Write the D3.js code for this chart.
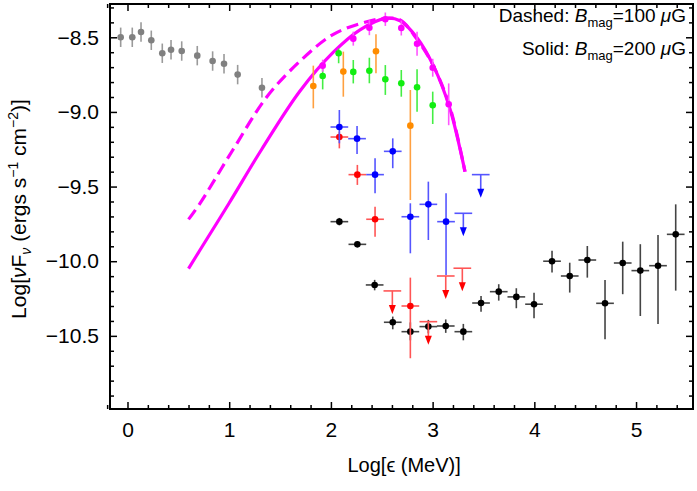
<!DOCTYPE html>
<html>
<head>
<meta charset="utf-8">
<script src="https://cdn.jsdelivr.net/npm/d3@7"></script>
<style>
  body { margin: 0; background: #fff; }
  svg { font-family: "Liberation Sans", Arial, sans-serif; }
</style>
</head>
<body>
<div id="chart"></div>
<script>
// ---- data (log10 energy in MeV, log10 nuFnu) ----
var grayX = [-0.067, 0.047, 0.133, 0.234, 0.342, 0.428, 0.533, 0.686, 0.837, 0.949, 1.083, 1.322];
var grayY = [-8.50, -8.50, -8.465, -8.52, -8.607, -8.583, -8.592, -8.623, -8.659, -8.677, -8.75, -8.838];
var grayErr = [0.065, 0.065, 0.065, 0.065, 0.065, 0.065, 0.065, 0.065, 0.065, 0.065, 0.065, 0.065];

var magX = [1.919, 2.22, 2.378, 2.535, 2.692, 2.847, 3.001, 3.158];
var magY = [-8.690, -8.509, -8.436, -8.379, -8.438, -8.543, -8.704, -8.949];
var magErr = [0.04, 0.047, 0.05, 0.045, 0.05, 0.08, 0.06, 0.14];

var orangeX = [1.827, 2.122, 2.443, 2.781];
var orangeY = [-8.826, -8.730, -8.594, -9.092];
var orangeHi = [-8.69, -8.596, -8.48, -8.853];
var orangeLo = [-8.976, -8.898, -8.741, -9.59];

var greenX = [1.919, 2.076, 2.22, 2.378, 2.535, 2.692, 2.847, 3.001];
var greenY = [-8.759, -8.607, -8.732, -8.724, -8.781, -8.808, -8.835, -8.955];
var greenHi = [-8.686, -8.574, -8.652, -8.637, -8.686, -8.719, -8.714, -8.864];
var greenLo = [-8.849, -8.674, -8.809, -8.808, -8.886, -8.898, -8.998, -9.081];

var blueX = [2.083, 2.257, 2.434, 2.608, 2.781, 2.958, 3.132];
var blueY = [-9.101, -9.179, -9.420, -9.264, -9.702, -9.619, -9.735];
var blueHi = [-8.987, -9.094, -9.311, -9.177, -9.612, -9.467, -9.545];
var blueLo = [-9.21, -9.282, -9.545, -9.377, -9.947, -9.858, -10.092];
var blueLimX = [3.302, 3.473];
var blueLimY = [-9.679, -9.420];

var redX = [2.083, 2.260, 2.434, 2.781];
var redY = [-9.168, -9.420, -9.719, -10.30];
var redHi = [-9.132, -9.355, -9.635, -10.11];
var redLo = [-9.244, -9.489, -9.836, -10.65];
var redLimX = [2.604, 2.958, 3.129, 3.292];
var redLimY = [-10.199, -10.405, -10.099, -10.047];

var blackX = [2.083, 2.260, 2.430, 2.608, 2.781, 2.958, 3.129, 3.302, 3.476, 3.650, 3.823, 3.997,
              4.174, 4.348, 4.521, 4.695, 4.869, 5.042, 5.216, 5.390];
var blackY = [-9.735, -9.887, -10.159, -10.409, -10.472, -10.438, -10.434, -10.472, -10.280, -10.204, -10.239, -10.288,
              -10.000, -10.099, -9.992, -10.282, -10.012, -10.063, -10.030, -9.820];
var blackHi = [-9.71, -9.87, -10.125, -10.371, -10.41, -10.393, -10.39, -10.42, -10.233, -10.154, -10.181, -10.211,
               -9.930, -10.01, -9.898, -10.126, -9.869, -9.886, -9.824, -9.619];
var blackLo = [-9.76, -9.905, -10.195, -10.456, -10.53, -10.483, -10.48, -10.53, -10.338, -10.264, -10.315, -10.382,
               -10.076, -10.21, -10.11, -10.523, -10.221, -10.367, -10.42, -10.197];
var binHalf = 0.087;

// model curves
var solidX = [0.60, 0.713, 1.00, 1.32, 1.696, 2.024, 2.286, 2.535, 2.68, 2.843, 3.007, 3.171, 3.318];
var solidY = [-10.05, -9.925, -9.61, -9.25, -8.86, -8.60, -8.45, -8.373, -8.389, -8.50, -8.69, -8.98, -9.40];
var dashX = [0.60, 0.713, 1.04, 1.369, 1.696, 2.024, 2.352, 2.535, 2.68, 2.843, 3.007, 3.171, 3.318];
var dashY = [-9.72, -9.612, -9.25, -8.90, -8.66, -8.48, -8.396, -8.373, -8.384, -8.51, -8.69, -8.97, -9.40];

var xTicks = [0, 1, 2, 3, 4, 5];
var xTickLabels = ['0', '1', '2', '3', '4', '5'];
var yTicks = [-10.5, -10, -9.5, -9, -8.5];
var yTickLabels = ['\u221210.5', '\u221210.0', '\u22129.5', '\u22129.0', '\u22128.5'];

// ---- layout ----
var W = 697, H = 491;
var margin = {top: 4, right: 4, bottom: 82, left: 110};
var width = W - margin.left - margin.right,
    height = H - margin.top - margin.bottom;

var svg = d3.select('#chart').append('svg')
    .attr('width', W)
    .attr('height', H);

var g = svg.append('g')
    .attr('transform', 'translate(' + margin.left + ',' + margin.top + ')');

var x = d3.scaleLinear().domain([-0.172, 5.56]).range([0, width]);
var y = d3.scaleLinear().domain([-10.99, -8.277]).range([height, 0]);

// ticks (inward, on all four sides)
var xMinor = d3.range(-1, 28).map(i => i * 0.2).filter(v => xTicks.indexOf(Math.round(v * 10) / 10) < 0);
var yMinor = d3.range(-109, -82).map(i => i / 10).filter(v => yTicks.indexOf(v) < 0);

function addAxis(axis, tr, cls) {
    var a = g.append('g').attr('class', cls).attr('transform', tr).call(axis);
    a.select('.domain').remove();
    a.selectAll('line').attr('stroke', '#000').attr('stroke-width', 1.5);
    a.selectAll('text').attr('fill', '#000').style('font-size', '21px');
    return a;
}

addAxis(d3.axisBottom(x).tickValues(xTicks).tickSize(-7).tickPadding(13)
        .tickFormat((d, i) => xTickLabels[i]), 'translate(0,' + height + ')', 'x-major');
addAxis(d3.axisBottom(x).tickValues(xMinor).tickSize(-4).tickFormat(''), 'translate(0,' + height + ')', 'x-minor');
addAxis(d3.axisTop(x).tickValues(xTicks).tickSize(-7).tickFormat(''), 'translate(0,0)', 'x-top');
addAxis(d3.axisTop(x).tickValues(xMinor).tickSize(-4).tickFormat(''), 'translate(0,0)', 'x-top-minor');
addAxis(d3.axisLeft(y).tickValues(yTicks).tickSize(-7).tickPadding(11)
        .tickFormat((d, i) => yTickLabels[i]), 'translate(0,0)', 'y-major');
addAxis(d3.axisLeft(y).tickValues(yMinor).tickSize(-4).tickFormat(''), 'translate(0,0)', 'y-minor');
addAxis(d3.axisRight(y).tickValues(yTicks).tickSize(-7).tickFormat(''), 'translate(' + width + ',0)', 'y-right');
addAxis(d3.axisRight(y).tickValues(yMinor).tickSize(-4).tickFormat(''), 'translate(' + width + ',0)', 'y-right-minor');

g.append('rect')
    .attr('width', width)
    .attr('height', height)
    .attr('fill', 'none')
    .attr('stroke', '#000')
    .attr('stroke-width', 2);

// ---- model curves ----
var line = d3.line()
    .curve(d3.curveCatmullRom)
    .x(d => x(d[0]))
    .y(d => y(d[1]));

g.append('path')
    .datum(dashX.map((v, i) => [v, dashY[i]]))
    .attr('fill', 'none')
    .attr('stroke', '#ff00ff')
    .attr('stroke-width', 3.2)
    .attr('stroke-dasharray', '12,6')
    .attr('d', line);

g.append('path')
    .datum(solidX.map((v, i) => [v, solidY[i]]))
    .attr('fill', 'none')
    .attr('stroke', '#ff00ff')
    .attr('stroke-width', 3.2)
    .attr('d', line);

// ---- data points ----
function drawSeries(xs, ys, hi, lo, color, barColor, withBins) {
    var pts = xs.map((v, i) => ({x: v, y: ys[i], hi: hi[i], lo: lo[i]}));
    var s = g.append('g');
    s.selectAll('.ebar').data(pts).enter().append('line')
        .attr('x1', d => x(d.x)).attr('x2', d => x(d.x))
        .attr('y1', d => y(d.hi)).attr('y2', d => y(d.lo))
        .attr('stroke', barColor).attr('stroke-width', 1.6);
    if (withBins) {
        s.selectAll('.hbar').data(pts).enter().append('line')
            .attr('x1', d => x(d.x - binHalf)).attr('x2', d => x(d.x + binHalf))
            .attr('y1', d => y(d.y)).attr('y2', d => y(d.y))
            .attr('stroke', barColor).attr('stroke-width', 1.6);
    }
    s.selectAll('circle').data(pts).enter().append('circle')
        .attr('cx', d => x(d.x)).attr('cy', d => y(d.y))
        .attr('r', 3.3)
        .attr('fill', color);
}

function drawLimits(xs, ys, color, barColor) {
    var pts = xs.map((v, i) => ({x: v, y: ys[i]}));
    var s = g.append('g');
    s.selectAll('.cap').data(pts).enter().append('line')
        .attr('x1', d => x(d.x - binHalf)).attr('x2', d => x(d.x + binHalf))
        .attr('y1', d => y(d.y)).attr('y2', d => y(d.y))
        .attr('stroke', barColor).attr('stroke-width', 1.6);
    s.selectAll('.stem').data(pts).enter().append('line')
        .attr('x1', d => x(d.x)).attr('x2', d => x(d.x))
        .attr('y1', d => y(d.y)).attr('y2', d => y(d.y) + 16)
        .attr('stroke', barColor).attr('stroke-width', 1.6);
    s.selectAll('path').data(pts).enter().append('path')
        .attr('d', d => {
            var cx = x(d.x), cy = y(d.y) + 14;
            return 'M' + (cx - 3.5) + ',' + cy + 'L' + (cx + 3.5) + ',' + cy + 'L' + cx + ',' + (cy + 9) + 'Z';
        })
        .attr('fill', color);
}

var add = (a, b) => a.map((v, i) => v + b[i]);
var sub = (a, b) => a.map((v, i) => v - b[i]);

drawSeries(grayX, grayY, add(grayY, grayErr), sub(grayY, grayErr), '#808080', '#9a9a9a', false);
drawSeries(orangeX, orangeY, orangeHi, orangeLo, '#ff8c00', '#ffa040', false);
drawSeries(greenX, greenY, greenHi, greenLo, '#11ee11', '#44ee44', false);
drawSeries(magX, magY, add(magY, magErr), sub(magY, magErr), '#ff00ff', '#ff55ff', false);
drawSeries(blackX, blackY, blackHi, blackLo, '#000', '#444', true);
drawSeries(redX, redY, redHi, redLo, '#ff0000', '#ff5555', true);
drawSeries(blueX, blueY, blueHi, blueLo, '#0000ff', '#5555ff', true);
drawLimits(redLimX, redLimY, '#ff0000', '#ff5555');
drawLimits(blueLimX, blueLimY, '#0000ff', '#5555ff');

// ---- legend text ----
function legendLine(yy, label, val) {
    var t = svg.append('text')
        .attr('x', 686)
        .attr('y', yy)
        .attr('text-anchor', 'end')
        .style('font-size', '19px');
    t.append('tspan').text(label + ' ');
    t.append('tspan').style('font-style', 'italic').text('B');
    t.append('tspan').attr('dy', 5).style('font-size', '13px').text('mag');
    t.append('tspan').attr('dy', -5).text('=' + val + ' ');
    t.append('tspan').style('font-style', 'italic').text('\u03bc');
    t.append('tspan').text('G');
}
legendLine(22, 'Dashed:', '100');
legendLine(55, 'Solid:', '200');

// ---- axis labels ----
svg.append('text')
    .attr('x', margin.left + x(2.72))
    .attr('y', 472)
    .attr('text-anchor', 'middle')
    .style('font-size', '20px')
    .text('Log[\u03f5 (MeV)]');

var yl = svg.append('text')
    .attr('transform', 'translate(26,209) rotate(-90)')
    .attr('text-anchor', 'middle')
    .style('font-size', '21px');
yl.append('tspan').text('Log[');
yl.append('tspan').style('font-style', 'italic').text('\u03bd');
yl.append('tspan').text('F');
yl.append('tspan').attr('dy', 5).style('font-size', '14px').style('font-style', 'italic').text('\u03bd');
yl.append('tspan').attr('dy', -5).text(' (ergs s');
yl.append('tspan').attr('dy', -8).style('font-size', '14px').text('\u22121');
yl.append('tspan').attr('dy', 8).text(' cm');
yl.append('tspan').attr('dy', -8).style('font-size', '14px').text('\u22122');
yl.append('tspan').attr('dy', 8).text(')]');
</script>
</body>
</html>
